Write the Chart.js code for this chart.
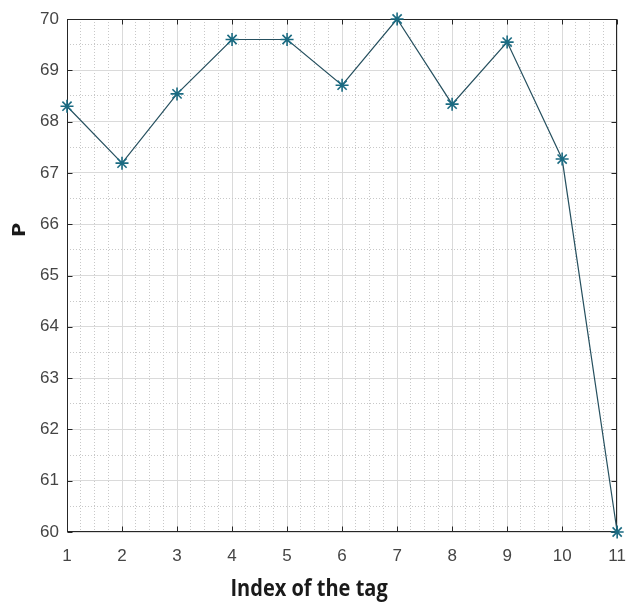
<!DOCTYPE html>
<html>
<head>
<meta charset="utf-8">
<script src="https://cdn.jsdelivr.net/npm/chart.js@4.4.1/dist/chart.umd.min.js"></script>
<style>
  html, body { margin: 0; padding: 0; background: #fff; }
  #wrap { width: 640px; height: 603px; position: relative; }
</style>
</head>
<body>
<div id="wrap"><canvas id="lineCanvas"></canvas></div>
<script>
// values
var tagIndex = [1, 2, 3, 4, 5, 6, 7, 8, 9, 10, 11];
var pValues = [68.30, 67.19, 68.54, 69.60, 69.60, 68.71, 70.00, 68.34, 69.55, 67.27, 60.00];
var xTicks = [1, 2, 3, 4, 5, 6, 7, 8, 9, 10, 11];
var yTicks = [60, 61, 62, 63, 64, 65, 66, 67, 68, 69, 70];
var xTitle = 'Index of the tag';
var yTitle = 'P';

function isMajor(v, list) {
    return list.indexOf(v) !== -1;
}

// box around the axes with inward ticks, plus the axis titles
var frame = {
    id: 'frame',
    beforeDatasetsDraw: function(chart) {
        var ctx = chart.ctx;
        var a = chart.chartArea;
        var xs = chart.scales.x, ys = chart.scales.y;
        var l = Math.round(a.left) + 0.5, r = Math.round(a.right) - 0.5;
        var t = Math.round(a.top) + 0.5, b = Math.round(a.bottom) - 0.5;
        ctx.save();
        ctx.strokeStyle = '#262626';
        ctx.lineWidth = 1;
        ctx.strokeRect(l, t, r - l, b - t);
        ctx.beginPath();
        xTicks.forEach(function(v) {
            var px = Math.round(xs.getPixelForValue(v)) + 0.5;
            ctx.moveTo(px, b); ctx.lineTo(px, b - 5);
            ctx.moveTo(px, t); ctx.lineTo(px, t + 5);
        });
        yTicks.forEach(function(v) {
            var py = Math.round(ys.getPixelForValue(v)) + 0.5;
            ctx.moveTo(l, py); ctx.lineTo(l + 5, py);
            ctx.moveTo(r, py); ctx.lineTo(r - 5, py);
        });
        ctx.stroke();
        ctx.restore();
    },
    afterDraw: function(chart) {
        var ctx = chart.ctx;
        var a = chart.chartArea;
        ctx.save();
        ctx.fillStyle = '#1a1a1a';
        ctx.textAlign = 'center';
        ctx.textBaseline = 'middle';
        // x title
        ctx.save();
        ctx.translate((a.left + a.right) / 2 - 33, a.bottom + 57);
        ctx.scale(1, 1.2);
        ctx.font = 'bold 20px "Open Sans"';
        ctx.fillText(xTitle, 0, 0);
        ctx.restore();
        // y title
        ctx.save();
        ctx.translate(20, a.top + 211);
        ctx.rotate(-Math.PI / 2);
        ctx.scale(1.3, 1);
        ctx.font = 'bold 18px "Open Sans"';
        ctx.fillText(yTitle, 0, 0);
        ctx.restore();
        ctx.restore();
    }
};

function lineChart() {
    var ctx = document.getElementById('lineCanvas').getContext('2d');

    var points = tagIndex.map(function(x, i) {
        return { x: x, y: pValues[i] };
    });

    var data = {
        datasets: [
            {
                label: yTitle,
                data: points,
                borderColor: '#26505f',
                borderWidth: 1.2,
                pointStyle: 'star',
                pointRadius: 6.5,
                pointBorderWidth: 1.6,
                pointBorderColor: '#1b6b82',
                pointBackgroundColor: '#1b6b82',
                tension: 0,
                clip: false
            }
        ]
    };

    var gridOpts = function(list) {
        return {
            color: function(c) {
                return isMajor(c.tick.value, list) ? '#dadada' : '#c8c8c8';
            },
            lineWidth: 1,
            drawTicks: false
        };
    };

    var options = {
        responsive: true,
        maintainAspectRatio: false,
        animation: false,
        layout: {
            padding: { left: 0, right: 13, top: 19, bottom: 0 }
        },
        plugins: {
            legend: { display: false },
            tooltip: { enabled: false }
        },
        scales: {
            x: {
                type: 'linear',
                min: 1,
                max: 11,
                afterFit: function(s) { s.height = 71; },
                grid: gridOpts(xTicks),
                border: {
                    display: false,
                    dash: function(c) {
                        return c.tick && !isMajor(c.tick.value, xTicks) ? [1, 2] : [];
                    }
                },
                ticks: {
                    stepSize: 0.25,
                    autoSkip: false,
                    maxRotation: 0,
                    padding: 14,
                    color: '#454545',
                    font: { family: '"Liberation Sans"', size: 17 },
                    callback: function(v) {
                        return isMajor(v, xTicks) ? String(v) : '';
                    }
                }
            },
            y: {
                min: 60,
                max: 70,
                afterFit: function(s) { s.width = 67; },
                grid: gridOpts(yTicks),
                border: {
                    display: false,
                    dash: function(c) {
                        return c.tick && !isMajor(c.tick.value, yTicks) ? [1, 2] : [];
                    }
                },
                ticks: {
                    stepSize: 0.5,
                    autoSkip: false,
                    padding: 8,
                    color: '#454545',
                    font: { family: '"Liberation Sans"', size: 17 },
                    callback: function(v) {
                        return isMajor(v, yTicks) ? String(v) : '';
                    }
                }
            }
        }
    };

    new Chart(ctx, {
        type: 'line',
        data: data,
        options: options,
        plugins: [frame]
    });
}

document.addEventListener('DOMContentLoaded', function() {
    lineChart();
});
</script>
</body>
</html>
